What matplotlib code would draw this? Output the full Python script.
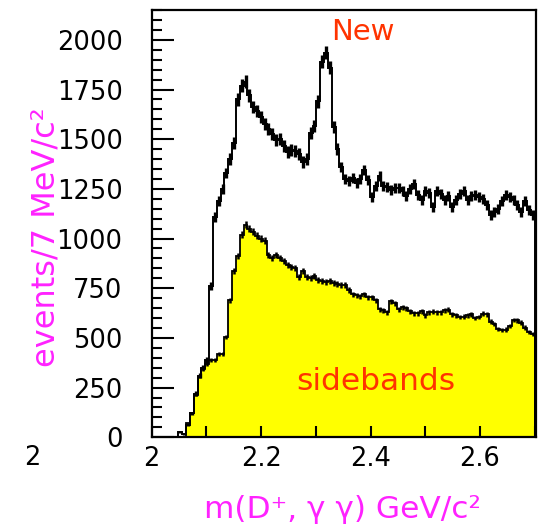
import numpy as np
import matplotlib
matplotlib.use("Agg")
import matplotlib.pyplot as plt
from matplotlib.ticker import MultipleLocator, FixedLocator, FuncFormatter

# ---- data ----
x_min, x_max, bin_width = 2.0, 2.7, 0.007

signal = [
    0, 0, 0, 0, 0, 0, 0, 25, 15, 60,
    120, 220, 310, 350, 390, 760, 1110, 1190, 1250, 1330,
    1400, 1480, 1700, 1770, 1790, 1720, 1660, 1640, 1610, 1575,
    1550, 1525, 1495, 1500, 1465, 1435, 1445, 1440, 1425, 1385,
    1400, 1530, 1565, 1690, 1890, 1935, 1860, 1560, 1450, 1360,
    1300, 1290, 1305, 1280, 1300, 1345, 1295, 1210, 1265, 1315,
    1265, 1260, 1245, 1255, 1255, 1240, 1215, 1250, 1275, 1220,
    1195, 1240, 1230, 1160, 1240, 1225, 1195, 1215, 1160, 1195,
    1225, 1240, 1195, 1215, 1220, 1210, 1200, 1170, 1120, 1135,
    1150, 1190, 1220, 1210, 1195, 1170, 1135, 1190, 1145, 1120,
]

sidebands = [
    0, 0, 0, 0, 0, 0, 0, 0, 0, 70,
    120, 215, 305, 345, 370, 388, 388, 420, 420, 505,
    690, 835, 910, 1020, 1070, 1050, 1035, 1015, 1000, 990,
    915, 900, 915, 900, 885, 865, 855, 850, 805, 835,
    805, 800, 810, 790, 785, 780, 785, 775, 770, 765,
    765, 740, 720, 715, 710, 720, 705, 705, 690, 645,
    640, 630, 685, 675, 645, 655, 650, 635, 625, 625,
    635, 615, 630, 632, 630, 630, 640, 642, 618, 615,
    605, 607, 615, 618, 600, 605, 622, 618, 582, 570,
    545, 540, 542, 560, 590, 588, 577, 552, 530, 520,
]

y_ticks = [0, 250, 500, 750, 1000, 1250, 1500, 1750, 2000]
x_tick_labels = {2.0: "2", 2.2: "2.2", 2.4: "2.4", 2.6: "2.6"}

# ---- figure ----
plt.rcParams['font.family'] = ['DejaVu Sans']
fig = plt.figure(figsize=(5.46, 5.30), dpi=100)
ax = fig.add_axes([0.2778, 0.1750, 0.7030, 0.8061])

n_bins = len(signal)
edges = x_min + bin_width * np.arange(n_bins + 1)
centers = 0.5 * (edges[:-1] + edges[1:])
sig = np.array(signal, dtype=float)
sb = np.array(sidebands, dtype=float)

# sidebands: yellow filled histogram with black outline
ax.stairs(sb, edges, fill=True, color="#ffff00", zorder=1)
ax.stairs(sb, edges, fill=False, color="black", lw=1.3, zorder=2)
m_sb = sb > 0
ax.errorbar(centers[m_sb], sb[m_sb], yerr=0.5 * np.sqrt(sb[m_sb]), fmt="none",
            ecolor="black", elinewidth=1.8, capsize=0, zorder=2)

# signal histogram with error bars
ax.stairs(sig, edges, fill=False, color="black", lw=1.4, zorder=3)
m_sig = sig > 0
ax.errorbar(centers[m_sig], sig[m_sig], yerr=0.75 * np.sqrt(sig[m_sig]), fmt="none",
            ecolor="black", elinewidth=2.4, capsize=0, zorder=3)

ax.set_xlim(x_min, 2.7016)
ax.set_ylim(0, 2150)

# ticks
ax.yaxis.set_major_locator(FixedLocator(y_ticks))
ax.yaxis.set_minor_locator(MultipleLocator(50))
ax.xaxis.set_major_locator(MultipleLocator(0.1))
ax.xaxis.set_major_formatter(FuncFormatter(
    lambda v, p: x_tick_labels.get(round(v, 1), "")))
ax.tick_params(axis="y", which="major", direction="in", length=15.5, width=1.5,
               labelsize=18.5, pad=21, right=False)
ax.tick_params(axis="y", which="minor", direction="in", length=7.5, width=1.5,
               right=False)
ax.tick_params(axis="x", which="major", direction="in", length=8, width=1.5,
               labelsize=18.5, pad=6, top=False)
for s in ax.spines.values():
    s.set_linewidth(1.6)

# annotations
ax.text(2.386, 1997, "New", color="#ff3300", fontsize=21,
        ha="center", va="baseline", zorder=5)
ax.text(2.409, 237, "sidebands", color="#ff3300", fontsize=22.5,
        ha="center", va="baseline", zorder=5)

magenta = "#ff22ff"
fig.text(46 / 546, 1 - 237 / 530, "events/7 MeV/c²", color=magenta,
         fontsize=23, rotation=90, ha="center", va="center")
fig.text(343 / 546, 1 - 510 / 530, "m(D⁺, γ γ) GeV/c²", color=magenta,
         fontsize=22.5, ha="center", va="center")
fig.text(32 / 546, 1 - 458 / 530, "2", color="black", fontsize=18.5,
         ha="center", va="center")

fig.savefig("out.png", dpi=100)
